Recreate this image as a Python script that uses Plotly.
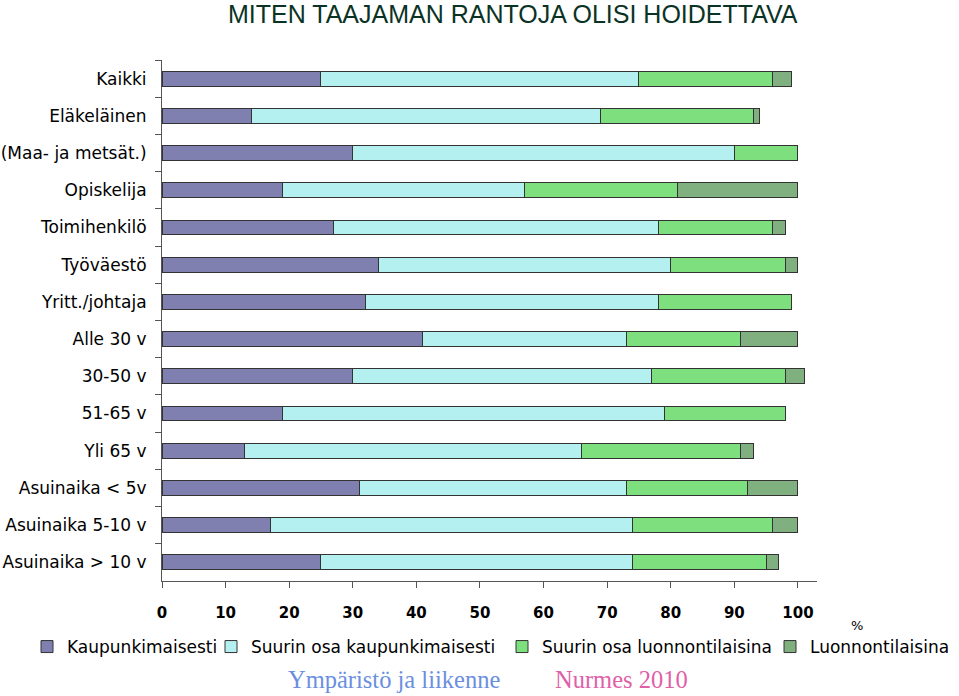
import plotly.graph_objects as go

categories = ["Kaikki", "Eläkeläinen", "(Maa- ja metsät.)", "Opiskelija", "Toimihenkilö",
              "Työväestö", "Yritt./johtaja", "Alle 30 v", "30-50 v", "51-65 v", "Yli 65 v",
              "Asuinaika < 5v", "Asuinaika 5-10 v", "Asuinaika > 10 v"]
kaupunkimaisesti = [25, 14, 30, 19, 27, 34, 32, 41, 30, 19, 13, 31, 17, 25]
suurin_osa_kaupunki = [50, 55, 60, 38, 51, 46, 46, 32, 47, 60, 53, 42, 57, 49]
suurin_osa_luonnon = [21, 24, 10, 24, 18, 18, 21, 18, 21, 19, 25, 19, 22, 21]
luonnontilaisina = [3, 1, 0, 19, 2, 2, 0, 9, 3, 0, 2, 8, 4, 2]
x_ticks = [0, 10, 20, 30, 40, 50, 60, 70, 80, 90, 100]

series = [
    ("Kaupunkimaisesti", kaupunkimaisesti, "#8080b0"),
    ("Suurin osa kaupunkimaisesti", suurin_osa_kaupunki, "#b4f0f0"),
    ("Suurin osa luonnontilaisina", suurin_osa_luonnon, "#7ddf7d"),
    ("Luonnontilaisina", luonnontilaisina, "#80b080"),
]
# left pixel of each legend entry's text in the reference
legend_text_x = [65, 249, 540, 808]

L, R, T, B = 162, 817, 60, 581
W, H = 959, 696
pw, ph = R - L, B - T

def px(x):
    return (x - L) / pw

def py(y):
    return (B - y) / ph

fig = go.Figure()
legend_layouts = {}
for i, (name, vals, col) in enumerate(series):
    lname = "legend" if i == 0 else f"legend{i + 1}"
    fig.add_trace(go.Bar(
        y=categories, x=vals, name=name, orientation="h", legend=lname,
        marker=dict(color=col, line=dict(color="#333333", width=1)),
    ))
    legend_layouts[lname] = dict(
        orientation="h", x=px(legend_text_x[i] - 38), xanchor="left",
        y=py(647), yanchor="middle", itemwidth=30, bgcolor="rgba(0,0,0,0)",
        font=dict(size=17, color="black", family="DejaVu Sans"),
    )

fig.update_layout(
    width=W, height=H,
    barmode="stack", bargap=0.6,
    plot_bgcolor="white", paper_bgcolor="white",
    margin=dict(l=L, r=W - R, t=T, b=H - B, autoexpand=False),
    font=dict(family="DejaVu Sans, sans-serif", color="black"),
    showlegend=True,
    xaxis=dict(range=[0, 103], tickvals=x_ticks, showgrid=False, zeroline=False,
               showline=True, linecolor="#555555", linewidth=1, automargin=False,
               ticks="outside", ticklen=6, tickcolor="#555555", ticklabelstandoff=12,
               tickfont=dict(size=15, family="DejaVu Sans", color="black", weight="bold")),
    yaxis=dict(categoryorder="array", categoryarray=categories, autorange="reversed",
               showgrid=False, zeroline=False, showline=True, linecolor="#555555", linewidth=1,
               ticks="outside", ticklen=6, tickcolor="#555555", tickson="boundaries",
               automargin=False, ticklabelstandoff=11,
               tickfont=dict(size=17, color="black", family="DejaVu Sans")),
    **legend_layouts,
)

fig.add_annotation(text="MITEN TAAJAMAN RANTOJA OLISI HOIDETTAVA", xref="paper", yref="paper",
                   x=px(513), y=py(14), xanchor="center", yanchor="middle",
                   showarrow=False, font=dict(size=25, color="#0a3325", family="Liberation Sans, Arial"))
fig.add_annotation(text="%", xref="paper", yref="paper",
                   x=px(857), y=py(625), xanchor="center", yanchor="middle",
                   showarrow=False, font=dict(size=13, color="black"))
fig.add_annotation(text="Ympäristö ja liikenne", xref="paper", yref="paper",
                   x=px(394), y=py(679), xanchor="center", yanchor="middle",
                   showarrow=False, font=dict(size=24.5, color="#6a8fe0", family="Liberation Serif, Times New Roman, serif"))
fig.add_annotation(text="Nurmes 2010", xref="paper", yref="paper",
                   x=px(621), y=py(679), xanchor="center", yanchor="middle",
                   showarrow=False, font=dict(size=24.5, color="#e060a8", family="Liberation Serif, Times New Roman, serif"))

fig.write_html("out.html", config={"displayModeBar": False},
               post_script="document.body.style.margin='0';document.body.style.overflow='hidden';")
